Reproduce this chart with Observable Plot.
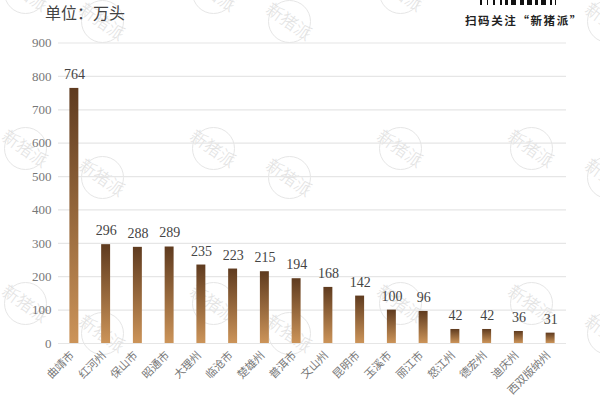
<!DOCTYPE html>
<html>
<head>
<meta charset="utf-8">
<script src="https://cdn.jsdelivr.net/npm/d3@7"></script>
<script src="https://cdn.jsdelivr.net/npm/@observablehq/plot@0.6"></script>
<style>
html,body{margin:0;padding:0;background:#fff;}
#stage{position:relative;width:600px;height:400px;overflow:hidden;}
#stage>svg{position:absolute;left:0;top:0;}
.wm{position:absolute;width:41px;height:41px;border:1.3px solid #e6e6e6;border-radius:50%;}
.wm span{position:absolute;left:-14px;right:-14px;top:8px;text-align:center;transform:rotate(35deg);font:17px/24px "Noto Sans CJK SC",sans-serif;font-weight:300;color:#e2e2e2;white-space:nowrap;}
#unit{position:absolute;left:45px;top:1px;font:16px/22px "Noto Sans CJK SC",sans-serif;color:#444;}
#scan{position:absolute;left:465px;top:12px;font:bold 11.5px/16px "Noto Sans CJK SC",sans-serif;color:#222;letter-spacing:1.6px;white-space:nowrap;}
.qr{position:absolute;background:#111;top:0;height:5px;}
</style>
</head>
<body>
<div id="stage"></div>
<script>
const regions = ["曲靖市","红河州","保山市","昭通市","大理州","临沧市","楚雄州","普洱市","文山州","昆明市","玉溪市","丽江市","怒江州","德宏州","迪庆州","西双版纳州"];
const stock = [764,296,288,289,235,223,215,194,168,142,100,96,42,42,36,31];
const yTicks = [0,100,200,300,400,500,600,700,800,900];
const unitLabel = "单位：万头";
const scanLabel = "扫码关注“新猪派”";
const watermarkText = "新猪派";
const watermarkSpots = [[25,-8],[213,-8],[400,-8],[102,21],[289,21],[608,21],[25,148],[213,148],[400,148],[531,148],[102,177],[289,177],[608,177],[25,303],[213,303],[400,303],[531,303],[102,333],[289,333],[608,333]];
const qrBits = [[480,2],[487,1],[493,2],[500,2],[505,3],[511,5],[520,4],[527,5],[535,3],[541,5],[550,2],[555,1]];

const rows = regions.map((region,i)=>({region,value:stock[i]}));
const stage = document.getElementById("stage");

for (const [cx,cy] of watermarkSpots) {
  const w = document.createElement("div");
  w.className = "wm";
  w.style.left = (cx-21)+"px";
  w.style.top = (cy-21)+"px";
  w.innerHTML = "<span>"+watermarkText+"</span>";
  stage.appendChild(w);
}

function gradientDefs() {
  const ns = "http://www.w3.org/2000/svg";
  const defs = document.createElementNS(ns,"defs");
  const g = document.createElementNS(ns,"linearGradient");
  g.setAttribute("id","barGrad");
  g.setAttribute("x1","0");g.setAttribute("y1","0");g.setAttribute("x2","0");g.setAttribute("y2","1");
  [["0%","#5f3b1f"],["100%","#cc9459"]].forEach(([o,c])=>{
    const s = document.createElementNS(ns,"stop");
    s.setAttribute("offset",o);s.setAttribute("stop-color",c);
    g.appendChild(s);
  });
  defs.appendChild(g);
  return defs;
}

const chart = Plot.plot({
  width:600,
  height:400,
  marginLeft:58,
  marginRight:34,
  marginTop:42.5,
  marginBottom:57,
  style:{background:"transparent",fontFamily:'"Liberation Serif","Noto Sans CJK SC",serif'},
  x:{domain:regions,padding:0,round:false,label:null},
  y:{domain:[0,900],ticks:yTicks,label:null},
  marks:[
    gradientDefs,
    Plot.ruleY(yTicks,{stroke:"#e6e6e6",strokeWidth:1.2}),
    Plot.barY(rows,{x:"region",y:"value",fill:"url(#barGrad)",insetLeft:11.4,insetRight:11.4}),
    Plot.text(rows,{x:"region",y:"value",text:d=>String(d.value),dy:-14,fontSize:14,fill:"#444"}),
    Plot.axisY({ticks:yTicks,tickSize:0,tickPadding:7,label:null,fontSize:13,color:"#777"}),
    Plot.axisX({tickSize:0,tickRotate:-45,tickPadding:10,dx:-2,label:null,fontSize:11,color:"#777",fontFamily:'"Noto Sans CJK SC",sans-serif'})
  ]
});
stage.appendChild(chart);

const unit = document.createElement("div");
unit.id = "unit"; unit.textContent = unitLabel; stage.appendChild(unit);
const scan = document.createElement("div");
scan.id = "scan"; scan.textContent = scanLabel; stage.appendChild(scan);
for (const [x,w] of qrBits) {
  const b = document.createElement("div");
  b.className = "qr"; b.style.left = x+"px"; b.style.width = w+"px";
  stage.appendChild(b);
}
</script>
</body>
</html>
